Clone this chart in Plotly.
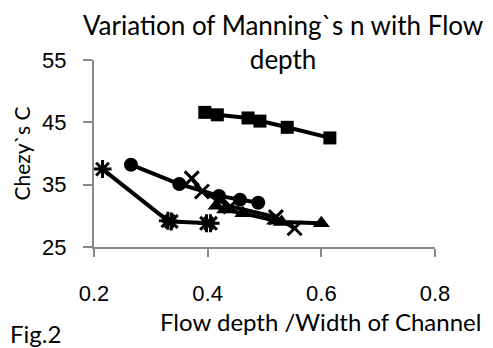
import plotly.graph_objects as go

x_square = [0.395, 0.417, 0.471, 0.492, 0.540, 0.615]
y_square = [46.6, 46.2, 45.7, 45.2, 44.2, 42.5]

x_circle = [0.265, 0.350, 0.420, 0.457, 0.489]
y_circle = [38.2, 35.1, 33.2, 32.6, 32.1]

x_triangle = [0.415, 0.430, 0.462, 0.518, 0.530, 0.600]
y_triangle = [31.6, 31.0, 30.4, 29.2, 29.0, 28.8]

x_cross = [0.372, 0.390, 0.440, 0.520, 0.553]
y_cross = [36.0, 33.9, 31.5, 29.8, 28.0]

x_star = [0.215, 0.330, 0.336, 0.398, 0.405]
y_star = [37.5, 29.2, 29.1, 28.8, 28.8]

x_ticks = [0.2, 0.4, 0.6, 0.8]
y_ticks = [25, 35, 45, 55]

fig = go.Figure()

def add(xs, ys, symbol, size, lw=0):
    fig.add_trace(go.Scatter(
        x=xs, y=ys, mode="lines+markers",
        line=dict(color="black", width=4),
        marker=dict(symbol=symbol, size=size, color="black",
                    line=dict(color="black", width=lw)),
        showlegend=False, cliponaxis=False))

add(x_square, y_square, "square", 13)
add(x_circle, y_circle, "circle", 14)
add(x_triangle, y_triangle, "triangle-up", 15)
add(x_cross, y_cross, "x-thin-open", 14, 3)
add(x_star, y_star, "asterisk-open", 15, 3)

tick_font = dict(family="Liberation Sans Narrow, Arial Narrow, Liberation Sans", size=22, color="black")
text_family = "Lato, Open Sans, sans-serif"

fig.update_layout(
    width=493, height=348,
    margin=dict(l=86, r=66, t=52, b=109),
    paper_bgcolor="white", plot_bgcolor="white",
    title=dict(text="Variation of Manning`s n with Flow<br>depth",
               x=0.558, xanchor="center", y=0.922, yanchor="middle",
               font=dict(family=text_family, size=26, color="black")),
    xaxis=dict(range=[0.2, 0.8], tickvals=x_ticks, ticktext=["0.2", "0.4", "0.6", "0.8"],
               showgrid=False, zeroline=False, showline=True, linecolor="#888888", linewidth=2,
               ticks="outside", ticklen=8, tickwidth=2, tickcolor="#888888",
               tickfont=tick_font, ticklabelstandoff=18, automargin=False),
    yaxis=dict(range=[25, 55], tickvals=y_ticks,
               showgrid=False, zeroline=False, showline=True, linecolor="#888888", linewidth=2,
               ticks="outside", ticklen=9, tickwidth=2, tickcolor="#888888",
               tickfont=tick_font, ticklabelstandoff=12, automargin=False),
    annotations=[
        dict(text="Flow depth /Width of Channel", xref="paper", yref="paper", x=0.663, y=-0.396,
             xanchor="center", yanchor="middle", showarrow=False,
             font=dict(family=text_family, size=24, color="black")),
        dict(text="Chezy`s C", xref="paper", yref="paper", x=-0.214, y=0.5, textangle=-90,
             xanchor="center", yanchor="middle", showarrow=False,
             font=dict(family=text_family, size=21, color="black")),
        dict(text="Fig.2", xref="paper", yref="paper", x=-0.252, y=-0.46,
             xanchor="left", yanchor="middle", showarrow=False,
             font=dict(family=text_family, size=24, color="black")),
    ],
)

fig.write_html("out.html")
